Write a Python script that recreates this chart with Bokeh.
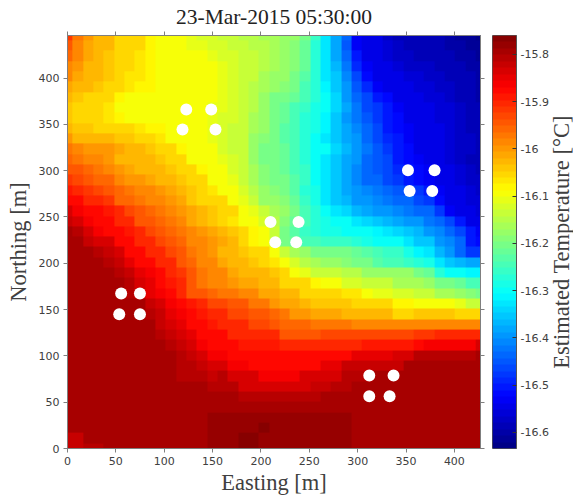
import numpy as np
from bokeh.plotting import figure
from bokeh.layouts import row
from bokeh.models import LinearColorMapper, LinearAxis, FixedTicker, Range1d
from bokeh.embed import file_html
from bokeh.resources import INLINE

title_text = "23-Mar-2015 05:30:00"
x_label = "Easting [m]"
y_label = "Northing [m]"
bar_label = "Estimated Temperature [°C]"
x_ticks = [0, 50, 100, 150, 200, 250, 300, 350, 400]
y_ticks = [0, 50, 100, 150, 200, 250, 300, 350, 400]
bar_ticks = [-15.8, -15.9, -16.0, -16.1, -16.2, -16.3, -16.4, -16.5, -16.6]
bar_tick_labels = ["-15.8", "-15.9", "-16", "-16.1", "-16.2", "-16.3", "-16.4", "-16.5", "-16.6"]
temp_low = -16.634
temp_high = -15.76
x_max = 427.0
y_max = 446.0

# Sensor positions (Easting, Northing) in metres
sensor_x = [122.8, 148.6, 118.9, 153.0, 209.9, 238.9, 214.8, 236.5, 352.0, 379.5,
            353.7, 377.1, 55.5, 74.9, 53.5, 74.9, 312.0, 337.1, 312.0, 333.0]
sensor_y = [366.2, 366.2, 344.6, 344.6, 244.6, 244.6, 222.7, 222.7, 300.4, 300.4,
            278.0, 278.0, 167.3, 167.3, 145.0, 145.0, 78.8, 78.8, 56.5, 56.5]

# Temperature in hundredths of a degree below zero, top row (north) first
temp_rows = [
[1592,1597,1600,1602,1603,1605,1606,1606,1608,1609,1609,1610,1611,1612,1612,1613,1614,1615,1615,1616,1616,1617,1618,1621,1626,1632,1638,1644,1653,1654,1655,1657,1658,1658,1659,1659,1659,1660,1661,1662,1663],
[1595,1598,1601,1602,1603,1605,1606,1606,1608,1609,1609,1610,1611,1611,1612,1612,1613,1614,1615,1615,1616,1617,1619,1622,1627,1632,1638,1645,1653,1654,1655,1656,1657,1658,1658,1659,1659,1660,1660,1661,1662],
[1596,1598,1601,1602,1604,1605,1606,1607,1608,1609,1609,1609,1610,1610,1611,1612,1612,1613,1614,1615,1616,1617,1619,1622,1627,1632,1638,1644,1651,1654,1655,1656,1657,1657,1658,1658,1658,1659,1660,1660,1661],
[1598,1600,1602,1603,1604,1606,1606,1607,1608,1609,1609,1609,1610,1610,1610,1611,1612,1613,1614,1615,1616,1617,1619,1622,1627,1632,1637,1642,1649,1653,1654,1655,1656,1657,1657,1657,1658,1659,1659,1660,1660],
[1599,1601,1603,1603,1604,1606,1607,1607,1608,1609,1609,1609,1609,1610,1610,1611,1612,1613,1614,1616,1617,1618,1620,1623,1627,1632,1636,1641,1647,1652,1654,1655,1655,1656,1656,1657,1657,1658,1659,1659,1660],
[1601,1603,1603,1604,1605,1606,1607,1608,1608,1609,1609,1609,1609,1610,1610,1611,1612,1613,1615,1616,1618,1619,1621,1624,1627,1631,1636,1640,1645,1649,1653,1654,1655,1655,1656,1656,1657,1657,1658,1659,1660],
[1603,1604,1605,1605,1606,1608,1609,1609,1609,1609,1609,1609,1609,1610,1610,1611,1612,1613,1615,1617,1620,1621,1622,1625,1627,1630,1634,1639,1643,1647,1650,1652,1654,1655,1655,1656,1656,1657,1658,1659,1660],
[1604,1605,1605,1606,1607,1609,1609,1609,1609,1609,1609,1610,1610,1610,1611,1611,1612,1613,1615,1618,1621,1622,1624,1626,1628,1630,1634,1638,1642,1646,1648,1651,1653,1654,1655,1655,1656,1656,1657,1658,1659],
[1604,1605,1605,1606,1607,1608,1609,1609,1609,1609,1609,1609,1610,1610,1611,1612,1612,1614,1616,1618,1621,1622,1625,1627,1629,1631,1635,1639,1642,1645,1648,1650,1652,1654,1655,1655,1656,1656,1657,1658,1659],
[1603,1604,1604,1605,1605,1606,1606,1607,1608,1608,1609,1610,1610,1610,1611,1612,1613,1614,1616,1618,1621,1623,1625,1627,1629,1631,1635,1638,1641,1644,1647,1650,1652,1653,1654,1654,1655,1656,1657,1658,1659],
[1600,1602,1603,1603,1603,1604,1604,1605,1606,1607,1609,1610,1610,1610,1611,1612,1613,1614,1617,1619,1620,1623,1625,1627,1630,1632,1635,1638,1640,1644,1646,1649,1651,1653,1654,1654,1655,1656,1657,1657,1658],
[1597,1598,1600,1600,1600,1601,1603,1603,1604,1605,1606,1608,1609,1610,1610,1612,1613,1614,1617,1620,1621,1622,1624,1627,1630,1630,1634,1637,1639,1642,1645,1648,1650,1652,1654,1654,1655,1656,1657,1657,1658],
[1596,1597,1598,1599,1600,1602,1603,1603,1603,1604,1605,1606,1609,1609,1610,1611,1612,1614,1617,1620,1621,1622,1624,1627,1630,1633,1636,1638,1640,1644,1645,1647,1650,1652,1653,1654,1655,1656,1657,1658,1658],
[1594,1595,1596,1597,1598,1600,1601,1602,1603,1603,1604,1605,1606,1608,1609,1610,1612,1614,1616,1619,1620,1622,1624,1626,1630,1633,1636,1638,1641,1643,1645,1647,1649,1651,1652,1653,1654,1655,1656,1657,1658],
[1592,1593,1595,1596,1596,1598,1600,1600,1601,1603,1603,1604,1606,1606,1609,1610,1611,1613,1616,1619,1620,1621,1623,1626,1630,1633,1636,1638,1641,1643,1644,1646,1648,1650,1652,1653,1654,1655,1656,1657,1657],
[1589,1590,1592,1593,1594,1596,1597,1598,1598,1600,1601,1603,1604,1606,1607,1609,1610,1612,1615,1618,1619,1620,1623,1627,1629,1632,1636,1638,1640,1641,1642,1644,1645,1646,1648,1650,1653,1654,1655,1656,1657],
[1587,1588,1590,1591,1592,1596,1596,1597,1598,1599,1600,1601,1604,1605,1605,1606,1609,1611,1614,1617,1618,1619,1622,1626,1629,1632,1635,1637,1639,1640,1641,1642,1643,1644,1646,1648,1652,1654,1655,1656,1656],
[1584,1586,1587,1588,1589,1590,1593,1595,1596,1597,1598,1600,1601,1603,1604,1605,1606,1609,1611,1614,1616,1618,1621,1625,1627,1630,1632,1634,1637,1638,1639,1640,1641,1642,1643,1644,1648,1653,1654,1655,1656],
[1582,1584,1586,1587,1588,1590,1591,1594,1595,1596,1597,1598,1601,1603,1604,1605,1607,1609,1610,1612,1615,1619,1622,1625,1627,1629,1630,1630,1633,1634,1636,1637,1638,1639,1640,1642,1643,1646,1651,1654,1655],
[1580,1581,1584,1586,1587,1588,1589,1591,1593,1594,1596,1597,1599,1600,1601,1603,1604,1606,1608,1610,1614,1620,1623,1626,1627,1628,1629,1630,1630,1630,1631,1632,1634,1635,1637,1639,1641,1643,1646,1651,1653],
[1579,1580,1582,1583,1584,1587,1588,1590,1591,1593,1594,1596,1598,1599,1600,1601,1603,1605,1608,1610,1614,1620,1622,1624,1625,1626,1626,1626,1627,1628,1630,1630,1630,1632,1635,1636,1639,1641,1644,1650,1652],
[1579,1579,1580,1581,1582,1584,1587,1588,1590,1591,1593,1595,1597,1599,1600,1602,1603,1604,1605,1606,1609,1613,1616,1618,1620,1620,1620,1621,1622,1623,1625,1626,1626,1628,1631,1633,1637,1640,1644,1648,1648],
[1580,1580,1579,1579,1581,1582,1585,1587,1587,1590,1591,1594,1596,1598,1599,1601,1602,1603,1604,1605,1607,1610,1612,1615,1616,1618,1618,1619,1620,1621,1623,1624,1624,1626,1627,1628,1632,1636,1637,1638,1638],
[1580,1580,1579,1579,1580,1581,1582,1585,1586,1587,1590,1592,1595,1597,1598,1599,1601,1602,1602,1603,1604,1606,1609,1611,1613,1613,1613,1615,1615,1617,1617,1617,1618,1618,1621,1622,1627,1630,1630,1631,1631],
[1580,1580,1580,1580,1580,1580,1581,1583,1585,1587,1589,1591,1594,1597,1598,1598,1600,1601,1601,1602,1603,1605,1606,1606,1608,1609,1610,1612,1612,1613,1613,1614,1616,1616,1616,1617,1620,1620,1622,1624,1624],
[1580,1580,1580,1580,1580,1580,1581,1582,1585,1586,1587,1590,1594,1594,1596,1597,1597,1599,1599,1601,1601,1602,1603,1605,1606,1606,1606,1607,1607,1609,1611,1611,1612,1612,1613,1613,1616,1616,1617,1619,1620],
[1580,1580,1580,1580,1580,1580,1580,1580,1582,1584,1586,1587,1589,1591,1593,1593,1595,1595,1597,1597,1600,1601,1601,1602,1604,1604,1604,1604,1605,1605,1606,1606,1608,1608,1609,1609,1610,1610,1611,1613,1613],
[1580,1580,1580,1580,1580,1580,1580,1580,1581,1582,1585,1586,1587,1589,1591,1591,1593,1593,1595,1595,1596,1597,1600,1600,1601,1601,1601,1602,1602,1603,1603,1603,1605,1605,1604,1604,1604,1604,1605,1605,1605],
[1580,1580,1580,1580,1580,1580,1580,1580,1580,1582,1584,1585,1587,1588,1589,1591,1591,1591,1593,1593,1594,1596,1596,1596,1597,1597,1597,1597,1598,1598,1598,1598,1598,1598,1598,1598,1598,1598,1598,1598,1598],
[1580,1580,1580,1580,1580,1580,1580,1580,1580,1581,1582,1584,1585,1587,1588,1588,1590,1590,1591,1591,1591,1594,1594,1594,1594,1593,1593,1593,1593,1593,1593,1593,1593,1593,1592,1592,1591,1591,1591,1591,1590],
[1580,1580,1580,1580,1580,1580,1580,1580,1580,1580,1581,1582,1584,1586,1587,1587,1588,1589,1589,1589,1589,1590,1590,1590,1590,1590,1590,1590,1590,1589,1589,1589,1589,1589,1587,1586,1586,1586,1586,1586,1584],
[1580,1580,1580,1580,1580,1580,1580,1580,1580,1580,1580,1581,1582,1584,1586,1586,1587,1587,1588,1588,1588,1588,1588,1588,1588,1587,1587,1587,1585,1585,1585,1585,1583,1583,1581,1581,1581,1581,1581,1581,1580],
[1580,1580,1580,1580,1580,1580,1580,1580,1580,1580,1580,1581,1581,1582,1584,1584,1586,1586,1587,1587,1587,1587,1587,1587,1587,1585,1585,1582,1582,1582,1582,1582,1582,1580,1580,1580,1579,1579,1579,1579,1579],
[1580,1580,1580,1580,1580,1580,1580,1580,1580,1580,1580,1581,1581,1581,1582,1581,1584,1584,1584,1586,1586,1586,1586,1584,1584,1583,1583,1581,1581,1581,1580,1580,1580,1580,1579,1579,1579,1579,1579,1579,1579],
[1580,1580,1580,1580,1580,1580,1580,1580,1580,1580,1580,1580,1580,1580,1581,1581,1581,1583,1583,1583,1583,1583,1583,1583,1582,1582,1581,1581,1579,1579,1579,1579,1579,1579,1579,1579,1579,1579,1579,1579,1579],
[1580,1580,1580,1580,1580,1580,1580,1580,1580,1580,1580,1580,1580,1580,1580,1580,1580,1581,1581,1581,1581,1581,1581,1581,1581,1580,1580,1579,1579,1579,1579,1579,1579,1579,1579,1579,1579,1579,1579,1579,1579],
[1580,1580,1580,1580,1580,1580,1580,1580,1580,1580,1580,1580,1579,1579,1579,1579,1579,1579,1579,1579,1579,1579,1579,1579,1579,1579,1579,1579,1579,1579,1579,1579,1579,1579,1579,1579,1579,1579,1579,1579,1579],
[1580,1580,1580,1580,1580,1580,1580,1580,1580,1580,1580,1580,1579,1579,1578,1578,1578,1578,1578,1578,1578,1578,1578,1578,1578,1578,1578,1578,1579,1579,1579,1579,1579,1579,1579,1579,1579,1579,1579,1579,1579],
[1580,1580,1580,1580,1580,1580,1580,1580,1580,1580,1580,1580,1580,1579,1578,1578,1578,1578,1578,1577,1578,1578,1578,1578,1578,1578,1578,1578,1579,1579,1579,1579,1579,1579,1579,1579,1579,1579,1579,1579,1579],
[1582,1582,1580,1580,1580,1580,1580,1580,1580,1580,1580,1580,1580,1579,1578,1578,1578,1577,1577,1578,1578,1578,1578,1578,1578,1578,1578,1578,1579,1579,1579,1579,1579,1579,1579,1579,1579,1579,1579,1579,1579],
[1582,1582,1581,1581,1580,1580,1580,1580,1580,1580,1580,1580,1580,1580,1578,1578,1578,1577,1577,1578,1578,1578,1578,1578,1578,1578,1578,1578,1579,1579,1579,1579,1579,1579,1579,1579,1579,1579,1579,1579,1579],
]


def jet(n):
    out = []
    for i in range(n):
        f = (i + 0.5) / n
        r = np.clip(min(4 * f - 1.5, -4 * f + 4.5), 0, 1)
        g = np.clip(min(4 * f - 0.5, -4 * f + 3.5), 0, 1)
        b = np.clip(min(4 * f + 0.5, -4 * f + 2.5), 0, 1)
        out.append("#%02x%02x%02x" % (int(r * 255), int(g * 255), int(b * 255)))
    return out


palette = jet(64)
mapper = LinearColorMapper(palette=palette, low=temp_low, high=temp_high)

temps = -np.array(temp_rows, dtype=float)[::-1] / 100.0
n_rows, n_cols = temps.shape
dx = x_max / (n_cols - 1)
dy = y_max / (n_rows - 1)

LABEL_FONT = "Liberation Serif"
TICK_FONT = "DejaVu Sans"
AXIS_COLOR = "#7f7f7f"
TEXT_COLOR = "#404040"

p = figure(
    frame_width=413, frame_height=413,
    x_range=Range1d(0, x_max), y_range=Range1d(0, y_max),
    toolbar_location=None, output_backend="svg",
    min_border_left=67, min_border_right=12, min_border_top=32, min_border_bottom=42,
    title=title_text,
)
p.title.text_font = LABEL_FONT
p.title.text_font_size = "21.5px"
p.title.text_font_style = "normal"
p.title.text_color = "#222222"
p.title.align = "center"
p.title.standoff = 5
p.grid.visible = False
p.outline_line_color = AXIS_COLOR
p.image(image=[temps], x=-dx / 2, y=-dy / 2, dw=x_max + dx, dh=y_max + dy, color_mapper=mapper)
p.scatter(sensor_x, sensor_y, size=12, color="white", line_color="white", line_width=0)

for ax, ticks in ((p.xaxis[0], x_ticks), (p.yaxis[0], y_ticks)):
    ax.ticker = FixedTicker(ticks=ticks)
    ax.major_tick_out = 4
    ax.major_tick_in = 0
    ax.minor_tick_out = 0
    ax.minor_tick_in = 0
    ax.axis_line_color = AXIS_COLOR
    ax.major_tick_line_color = AXIS_COLOR
    ax.major_label_text_font = TICK_FONT
    ax.major_label_text_font_size = "11px"
    ax.major_label_text_color = TEXT_COLOR
    ax.major_label_standoff = 4
    ax.axis_label_text_font = LABEL_FONT
    ax.axis_label_text_font_size = "22.5px"
    ax.axis_label_text_font_style = "normal"
    ax.axis_label_text_color = TEXT_COLOR
    ax.axis_label_standoff = 2
p.yaxis[0].axis_label_standoff = 5
p.xaxis[0].axis_label = x_label
p.yaxis[0].axis_label = y_label

for side, ticks in (("above", x_ticks), ("right", y_ticks)):
    extra = LinearAxis(ticker=FixedTicker(ticks=[], minor_ticks=ticks),
                       major_tick_out=0, major_tick_in=0, minor_tick_out=4, minor_tick_in=0,
                       axis_line_color=AXIS_COLOR, minor_tick_line_color=AXIS_COLOR,
                       major_label_standoff=0)
    p.add_layout(extra, side)

bar = figure(
    frame_width=24, frame_height=413,
    x_range=Range1d(0, 1), y_range=Range1d(temp_low, temp_high),
    toolbar_location=None, output_backend="svg", y_axis_location="right",
    min_border_left=0, min_border_right=30, min_border_top=32, min_border_bottom=42,
)
step = (temp_high - temp_low) / len(palette)
band_values = (temp_low + step * (np.arange(len(palette)) + 0.5)).reshape(-1, 1)
bar.image(image=[band_values], x=0, y=temp_low, dw=1, dh=temp_high - temp_low, color_mapper=mapper)
bar.grid.visible = False
bar.xaxis.visible = False
bar.outline_line_color = "#555555"
ax = bar.yaxis[0]
ax.ticker = FixedTicker(ticks=bar_ticks)
ax.major_label_overrides = dict(zip(bar_ticks, bar_tick_labels))
ax.major_tick_out = 0
ax.major_tick_in = 4
ax.minor_tick_out = 0
ax.minor_tick_in = 0
ax.axis_line_color = "#555555"
ax.major_tick_line_color = "#333333"
ax.major_label_text_font = TICK_FONT
ax.major_label_text_font_size = "11px"
ax.major_label_text_color = TEXT_COLOR
ax.major_label_standoff = 4

side_label = figure(
    frame_width=1, frame_height=413, x_range=Range1d(0, 1), y_range=Range1d(0, 1),
    toolbar_location=None, output_backend="svg", outline_line_color=None,
    border_fill_color=None, background_fill_color=None,
    min_border_left=0, min_border_right=0, min_border_top=32, min_border_bottom=42,
    margin=(0, 0, 0, -6),
)
side_label.grid.visible = False
side_label.xaxis.visible = False
sa = side_label.yaxis[0]
sa.ticker = FixedTicker(ticks=[])
sa.axis_line_color = None
sa.major_tick_line_color = None
sa.minor_tick_line_color = None
sa.axis_label = bar_label
sa.axis_label_text_font = LABEL_FONT
sa.axis_label_text_font_size = "22.5px"
sa.axis_label_text_font_style = "normal"
sa.axis_label_text_color = TEXT_COLOR
sa.axis_label_standoff = 0

layout = row(p, bar, side_label)
open("out.html", "w").write(file_html(layout, INLINE))
